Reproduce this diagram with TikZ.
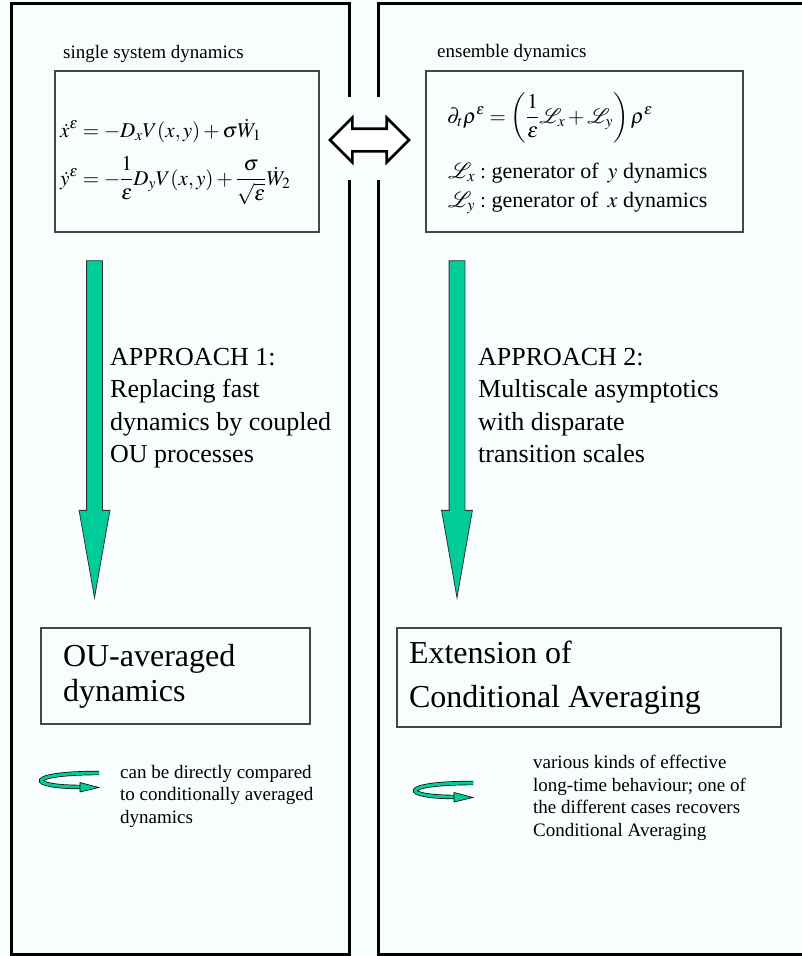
\documentclass[tikz,border=0pt]{standalone}
\usepackage{mathptmx}
\usepackage{fontspec}
\setmainfont{Liberation Serif}
\usepackage{xcolor}
\usetikzlibrary{shapes.arrows}

\definecolor{approachgreen}{RGB}{0,204,153}
\definecolor{bgtint}{RGB}{248,253,253}
\definecolor{boxgray}{RGB}{70,70,70}

\tikzset{
  loopicon/.pic={
    \draw[double=approachgreen, double distance=3pt, line width=0.7pt]
      (58,-7) .. controls (-16,-7) and (-16,7) .. (41,7);
    \filldraw[fill=approachgreen, draw=black, line width=0.6pt]
      (39,2.5) -- (58,7.5) -- (39,12) -- cycle;
  }
}

\begin{document}
\begin{tikzpicture}[
  x=1pt, y=-1pt,
  panel/.style={line width=3pt},
  eqbox/.style={draw=boxgray, line width=1.2pt, inner sep=0pt},
  lbl/.style={font=\fontsize{19}{22.5}\selectfont, inner sep=0pt},
  eqtxt/.style={font=\fontsize{21}{25}\selectfont, inner sep=0pt},
  apptxt/.style={font=\fontsize{26}{32.5}\selectfont, inner sep=0pt, align=left},
  notetxt/.style={font=\fontsize{19}{22.6}\selectfont, inner sep=0pt, align=left},
  resbox/.style={draw=boxgray, line width=1.2pt, inner ysep=0pt, align=flush left},
  approach/.style={single arrow, draw=black!80, line width=0.8pt, fill=approachgreen,
    inner xsep=0pt, inner ysep=7.5pt, minimum width=30pt, minimum height=337pt,
    single arrow head extend=7.5pt, single arrow tip angle=20, rotate=-90, anchor=tip},
  swaparrow/.style={double arrow, draw, fill=white, line width=2.6pt,
    inner xsep=0pt, inner ysep=10pt, minimum width=42pt, minimum height=79pt,
    double arrow head extend=11pt}
]
  \useasboundingbox (0,0) rectangle (802,956);
  \fill[bgtint] (0,0) rectangle (802,956);

  \draw[panel] (349,97) |- (11,3) |- (349,954) -- (349,180);
  \draw[panel] (378,97) |- (806,3) -- (806,954) -| (378,180);

  \node[lbl, anchor=base west] (sysLbl) at (63,58) {single system dynamics};
  \node[lbl, anchor=base west] (ensLbl) at (437,57) {ensemble dynamics};

  \node[eqbox, minimum width=264pt, minimum height=161pt] (sysBox) at (187,151.5) {};
  \node[eqbox, minimum width=317pt, minimum height=161pt] (ensBox) at (584.5,151.5) {};

  \node[eqtxt, anchor=base west] (eqX) at (60,137)
    {$\displaystyle \dot x^{\varepsilon} = -D_xV(x,y)+\sigma\dot W_1$};
  \node[eqtxt, anchor=base west] (eqY) at (60,185)
    {$\displaystyle \dot y^{\varepsilon} = -\frac{1}{\varepsilon}D_yV(x,y)+\frac{\sigma}{\sqrt{\varepsilon}}\dot W_2$};
  \node[eqtxt, anchor=base west] (eqRho) at (447,123)
    {$\displaystyle \partial_t\rho^{\varepsilon} = \left(\frac{1}{\varepsilon}\mathcal{L}_x+\mathcal{L}_y\right)\rho^{\varepsilon}$};
  \node[eqtxt, font=\fontsize{22}{26}\selectfont, anchor=base west] (genX) at (448,178)
    {$\mathcal{L}_x:$ generator of \,$y$ dynamics};
  \node[eqtxt, font=\fontsize{22}{26}\selectfont, anchor=base west] (genY) at (448,207)
    {$\mathcal{L}_y:$ generator of \,$x$ dynamics};

  \node[swaparrow] (swap) at (369.5,140) {};

  \node[approach] (apprL) at (94.5,600) {};
  \node[approach] (apprR) at (457,600) {};

  \node[apptxt, anchor=north west] (appL) at (110,348)
    {APPROACH 1:\\Replacing fast\\dynamics by coupled\\OU processes};
  \node[apptxt, anchor=north west] (appR) at (478,348)
    {APPROACH 2:\\Multiscale asymptotics\\with disparate\\transition scales};

  \node[resbox, font=\fontsize{32}{35}\selectfont, text width=225pt, inner xsep=22pt,
    minimum height=96pt] (ouBox) at (175.5,676) {OU-averaged\\dynamics};
  \node[resbox, font=\fontsize{32}{44}\selectfont, text width=360pt, inner xsep=12pt,
    minimum height=99pt] (caBox) at (589,677.5) {Extension of\\Conditional Averaging};

  \pic (loopL) at (41,780) {loopicon};
  \pic (loopR) at (415,790) {loopicon};

  \node[notetxt, anchor=north west] (noteL) at (120,765)
    {can be directly compared\\to conditionally averaged\\dynamics};
  \node[notetxt, anchor=north west] (noteR) at (533,755)
    {various kinds of effective\\long-time behaviour; one of\\the different cases recovers\\Conditional Averaging};
\end{tikzpicture}
\end{document}
